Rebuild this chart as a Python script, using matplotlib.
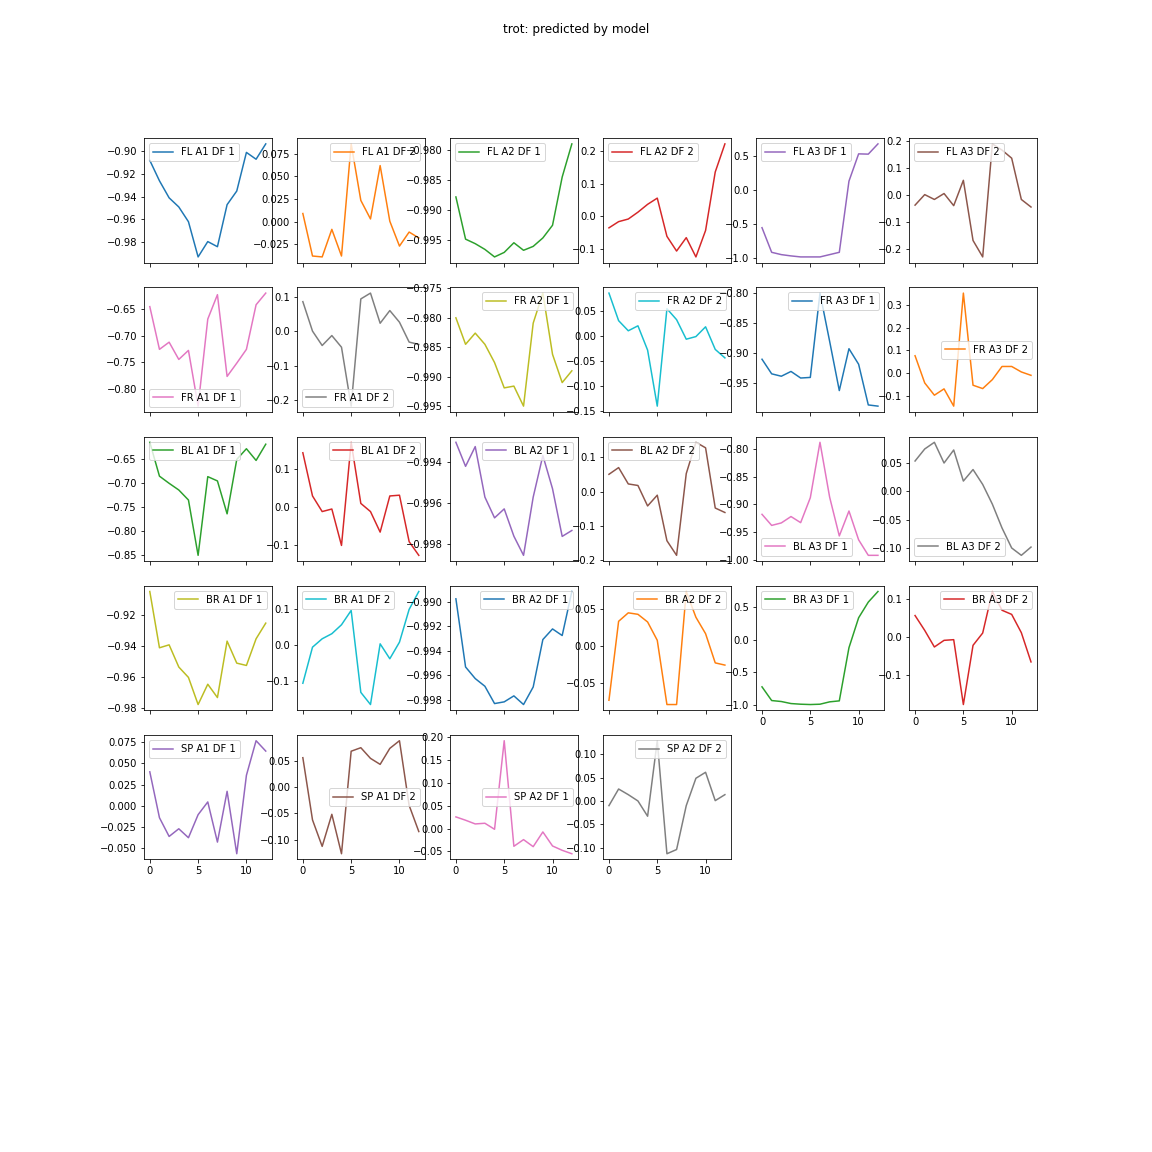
import numpy as np
import matplotlib
matplotlib.use("Agg")
import matplotlib.pyplot as plt

steps = list(range(13))

fl_a1_df1 = [-0.908, -0.926, -0.941, -0.949, -0.962, -0.993, -0.9795, -0.984, -0.947, -0.935, -0.901, -0.907, -0.8935]
fl_a1_df2 = [0.009, -0.038, -0.039, -0.0085, -0.038, 0.086, 0.0235, 0.003, 0.062, 0.0005, -0.027, -0.0115, -0.018]
fl_a2_df1 = [-0.9878, -0.9948, -0.99555, -0.9965, -0.99775, -0.997, -0.9954, -0.99665, -0.996, -0.9946, -0.9925, -0.9845, -0.979]
fl_a2_df2 = [-0.035, -0.016, -0.008, 0.013, 0.037, 0.056, -0.061, -0.106, -0.065, -0.124, -0.043, 0.136, 0.222]
fl_a3_df1 = [-0.559, -0.922, -0.956, -0.975, -0.99, -0.99, -0.99, -0.956, -0.922, 0.127, 0.529, 0.525, 0.676]
fl_a3_df2 = [-0.037, 0.002, -0.016, 0.006, -0.039, 0.055, -0.168, -0.229, 0.19, 0.167, 0.137, -0.016, -0.044]

fr_a1_df1 = [-0.6455, -0.726, -0.7125, -0.745, -0.728, -0.833, -0.669, -0.623, -0.777, -0.752, -0.726, -0.642, -0.62]
fr_a1_df2 = [0.087, 0.001, -0.041, -0.012, -0.046, -0.218, 0.095, 0.112, 0.024, 0.061, 0.027, -0.031, -0.038]
fr_a2_df1 = [-0.98, -0.9845, -0.9826, -0.9845, -0.9876, -0.9919, -0.9916, -0.9950, -0.9809, -0.9758, -0.9862, -0.991, -0.989]
fr_a2_df2 = [0.087, 0.0314, 0.011, 0.021, -0.028, -0.141, 0.0555, 0.0334, -0.006, -0.0007, 0.019, -0.0266, -0.0437]
fr_a3_df1 = [-0.9106, -0.935, -0.939, -0.931, -0.942, -0.941, -0.80, -0.8806, -0.963, -0.893, -0.919, -0.987, -0.989]
fr_a3_df2 = [0.077, -0.042, -0.0957, -0.068, -0.1435, 0.351, -0.052, -0.0667, -0.0275, 0.03, 0.03, 0.006, -0.0087]

bl_a1_df1 = [-0.614, -0.685, -0.70, -0.714, -0.735, -0.851, -0.686, -0.695, -0.764, -0.65, -0.6275, -0.652, -0.618]
bl_a1_df2 = [0.1435, 0.03, -0.011, -0.0043, -0.1, 0.171, 0.0104, -0.011, -0.065, 0.03, 0.032, -0.09, -0.126]
bl_a2_df1 = [-0.99302, -0.9942, -0.99323, -0.99571, -0.99673, -0.99629, -0.99763, -0.99857, -0.99571, -0.99367, -0.9953, -0.99764, -0.99735]
bl_a2_df2 = [0.05, 0.0695, 0.022, 0.0175, -0.042, -0.0107, -0.143, -0.1855, 0.052, 0.143, 0.127, -0.048, -0.061]
bl_a3_df1 = [-0.918, -0.938, -0.9335, -0.922, -0.933, -0.888, -0.788, -0.887, -0.957, -0.912, -0.964, -0.992, -0.992]
bl_a3_df2 = [0.0542, 0.0756, 0.0875, 0.0506, 0.0738, 0.0185, 0.039, 0.0125, -0.0226, -0.065, -0.1006, -0.1137, -0.099]

br_a1_df1 = [-0.9046, -0.9409, -0.939, -0.9533, -0.96, -0.9775, -0.9644, -0.973, -0.9366, -0.9508, -0.9523, -0.9351, -0.925]
br_a1_df2 = [-0.1065, -0.0056, 0.0178, 0.032, 0.057, 0.097, -0.132, -0.166, 0.0037, -0.038, 0.0084, 0.1, 0.15]
br_a2_df1 = [-0.98973, -0.99532, -0.99627, -0.9969, -0.99832, -0.99818, -0.99769, -0.9984, -0.99696, -0.99307, -0.9922, -0.99274, -0.98913]
br_a2_df2 = [-0.0738, 0.0335, 0.045, 0.043, 0.0326, 0.0077, -0.0796, -0.0796, 0.074, 0.039, 0.0167, -0.023, -0.026]
br_a3_df1 = [-0.72, -0.929, -0.944, -0.975, -0.985, -0.99, -0.985, -0.949, -0.934, -0.122, 0.335, 0.574, 0.736]
br_a3_df2 = [0.057, 0.0176, -0.0264, -0.0088, -0.007, -0.179, -0.022, 0.0106, 0.1207, 0.071, 0.06, 0.0115, -0.066]

sp_a1_df1 = [0.0401, -0.0143, -0.0365, -0.0274, -0.038, -0.0107, 0.0044, -0.0432, 0.017, -0.057, 0.036, 0.077, 0.0647]
sp_a1_df2 = [0.0557, -0.0627, -0.113, -0.052, -0.127, 0.068, 0.0747, 0.0544, 0.043, 0.0734, 0.088, -0.035, -0.0848]
sp_a2_df1 = [0.0256, 0.0183, 0.0102, 0.0117, -0.0015, 0.1923, -0.0387, -0.0241, -0.0395, -0.0073, -0.038, -0.0475, -0.055]
sp_a2_df2 = [-0.01, 0.0256, 0.0135, 0.0, -0.0327, 0.129, -0.113, -0.104, -0.01, 0.0486, 0.0614, 0.0007, 0.0135]

labels = [
    "FL A1 DF 1", "FL A1 DF 2", "FL A2 DF 1", "FL A2 DF 2", "FL A3 DF 1", "FL A3 DF 2",
    "FR A1 DF 1", "FR A1 DF 2", "FR A2 DF 1", "FR A2 DF 2", "FR A3 DF 1", "FR A3 DF 2",
    "BL A1 DF 1", "BL A1 DF 2", "BL A2 DF 1", "BL A2 DF 2", "BL A3 DF 1", "BL A3 DF 2",
    "BR A1 DF 1", "BR A1 DF 2", "BR A2 DF 1", "BR A2 DF 2", "BR A3 DF 1", "BR A3 DF 2",
    "SP A1 DF 1", "SP A1 DF 2", "SP A2 DF 1", "SP A2 DF 2",
]
series = [
    fl_a1_df1, fl_a1_df2, fl_a2_df1, fl_a2_df2, fl_a3_df1, fl_a3_df2,
    fr_a1_df1, fr_a1_df2, fr_a2_df1, fr_a2_df2, fr_a3_df1, fr_a3_df2,
    bl_a1_df1, bl_a1_df2, bl_a2_df1, bl_a2_df2, bl_a3_df1, bl_a3_df2,
    br_a1_df1, br_a1_df2, br_a2_df1, br_a2_df2, br_a3_df1, br_a3_df2,
    sp_a1_df1, sp_a1_df2, sp_a2_df1, sp_a2_df2,
]

# legend spots as they came out in the original run
legend_locs = [
    "upper left", "upper right", "upper left", "upper left", "upper left", "upper left",
    "lower left", "lower left", "upper right", "upper right", "upper right", "center right",
    "upper left", "upper right", "upper right", "upper left", "lower left", "lower left",
    "upper right", "upper left", "upper right", "upper right", "upper left", "upper right",
    "upper left", "center right", "center right", "upper right",
]


def run(plt, outfile):
    plt.rcParams.update(plt.rcParamsDefault | {
        "figure.figsize": [16, 16],
        "figure.dpi": 72,
        "savefig.dpi": 72,
        "font.size": 10,
    })
    colors = plt.rcParams["axes.prop_cycle"].by_key()["color"]

    fig, axes = plt.subplots(5, 6, sharex=True)
    fig.subplots_adjust(bottom=0.254)
    flat = axes.ravel()

    for i, (label, ys) in enumerate(zip(labels, series)):
        ax = flat[i]
        ax.plot(steps, ys, color=colors[i % len(colors)], label=label)
        ax.legend(loc=legend_locs[i])

    # empty slots at the end of the grid
    for ax in flat[len(series):]:
        fig.delaxes(ax)
    for ax in axes[3, 4:]:
        ax.xaxis.set_tick_params(labelbottom=True)

    fig.suptitle("trot: predicted by model")
    fig.savefig(outfile)


def main():
    run(plt, "out.png")


if __name__ == "__main__":
    main()
